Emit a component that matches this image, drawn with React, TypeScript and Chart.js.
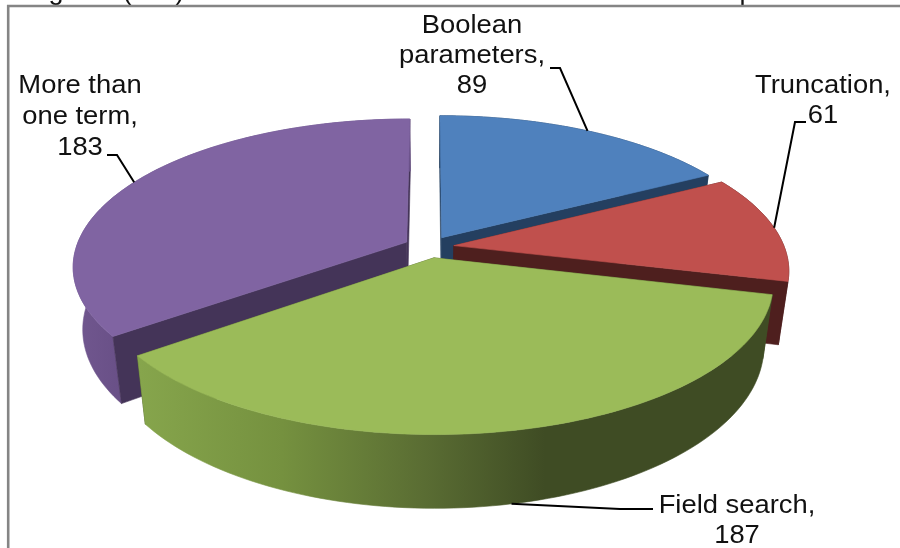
import React, { useEffect, useRef } from "react";
import { Chart, registerables } from "chart.js";

Chart.register(...registerables);

const categories = ["Boolean parameters", "Truncation", "Field search", "More than one term"];
const values = [89, 61, 187, 183];
const labelLines = [["Boolean", "parameters,"], ["Truncation,"], ["Field search,"], ["More than", "one term,"]];
const topColors = ["#4F81BD", "#C0504D", "#9BBB59", "#8064A2"];
const wallColors = ["#243F60", "#4E1F1E", "#3F4C24", "#443458"];
const paintOrder = [3, 0, 1, 2];

// Ground-plane projection of the unit pie onto the canvas
const view = { cx: 429, cy: 247, a: 330.5, b: 144.4, persp: 0.161, depth: 61, floorScale: 0.973 };

// Callout placement: text centre, first baseline, line gap, elbow and stub end, per slice
const callouts = [
  { x: 472, y: 33, gap: 30, elbow: [560, 68], stub: [550, 68], onFloor: false },
  { x: 823, y: 93, gap: 30, elbow: [795, 122], stub: [806, 122], onFloor: false },
  { x: 737, y: 513, gap: 30, elbow: [620, 509], stub: [653, 509], onFloor: true },
  { x: 80, y: 93, gap: 31, elbow: [117, 155], stub: [107, 155], onFloor: false },
];
const clippedCaption = [["g", 56], ["(", 127], [")", 180], ["p", 747]];

type Pt = [number, number];

function projectTop(u: number, v: number): Pt {
  const d = 1 - view.persp * v;
  return [view.cx + (view.a * u) / d, view.cy + (view.b * v) / d];
}

function projectFloor(u: number, v: number): Pt {
  const d = 1 - view.persp * v;
  const [x, y] = projectTop(u, v);
  return [view.cx + (x - view.cx) * view.floorScale, y + view.depth / d];
}

function polygon(ctx: CanvasRenderingContext2D, pts: Pt[], fill: string | CanvasGradient) {
  ctx.beginPath();
  pts.forEach(([x, y], i) => (i ? ctx.lineTo(x, y) : ctx.moveTo(x, y)));
  ctx.closePath();
  ctx.fillStyle = fill;
  ctx.fill();
  ctx.strokeStyle = fill;
  ctx.lineWidth = 0.6;
  ctx.stroke();
}

function stretchedText(ctx: CanvasRenderingContext2D, text: string, x: number, y: number) {
  ctx.save();
  ctx.translate(x, y);
  ctx.scale(1.095, 1);
  ctx.font = "25px 'Liberation Sans'";
  ctx.textAlign = "center";
  ctx.textBaseline = "alphabetic";
  ctx.fillStyle = "#111111";
  ctx.fillText(text, 0, 0);
  ctx.restore();
}

function rimGeometry(arc: any) {
  const { startAngle, endAngle, outerRadius } = arc.getProps(["startAngle", "endAngle", "outerRadius"], true);
  const mid = (startAngle + endAngle) / 2;
  const e = (arc.options.offset || 0) / outerRadius;
  const ox = Math.cos(mid) * e;
  const oy = Math.sin(mid) * e;
  const at = (angle: number, r = 1): [number, number] => [ox + Math.cos(angle) * r, oy + Math.sin(angle) * r];
  return { startAngle, endAngle, mid, at };
}

const pie3d = {
  id: "pie3d",
  // Replaces the flat arcs with extruded slices, using the angles the controller computed
  beforeDatasetDraw(chart: any) {
    const ctx: CanvasRenderingContext2D = chart.ctx;
    const arcs = chart.getDatasetMeta(0).data;
    ctx.save();
    for (const i of paintOrder) {
      const { startAngle, endAngle, at } = rimGeometry(arcs[i]);
      const steps = 90;
      const angles: number[] = [];
      for (let s = 0; s <= steps; s++) angles.push(startAngle + ((endAngle - startAngle) * s) / steps);
      const top = angles.map((a) => projectTop(...at(a)));
      const floor = angles.map((a) => projectFloor(...at(a)));
      const apex = at(0, 0);
      const wall = (a: number): Pt[] => [
        projectTop(...apex),
        projectTop(...at(a)),
        projectFloor(...at(a)),
        projectFloor(...apex),
      ];

      const startFront = -Math.cos(startAngle) > 0.01;
      const endFront = Math.cos(endAngle) > 0.01;
      if (!startFront) polygon(ctx, wall(startAngle), wallColors[i]);
      if (!endFront) polygon(ctx, wall(endAngle), wallColors[i]);

      let rimFill: string | CanvasGradient = wallColors[i];
      if (i === 2) {
        const g = ctx.createLinearGradient(140, 0, 545, 0);
        g.addColorStop(0, "#86A54C");
        g.addColorStop(0.35, "#75913F");
        g.addColorStop(0.7, "#5A6D33");
        g.addColorStop(1, "#3F4C24");
        rimFill = g;
      } else if (i === 3) {
        const g = ctx.createLinearGradient(75, 0, 125, 0);
        g.addColorStop(0, "#71578F");
        g.addColorStop(1, "#684F86");
        rimFill = g;
      }
      polygon(ctx, [...top, ...floor.slice().reverse()], rimFill);

      if (startFront) polygon(ctx, wall(startAngle), wallColors[i]);
      if (endFront) polygon(ctx, wall(endAngle), wallColors[i]);
      polygon(ctx, [projectTop(...apex), ...top], topColors[i]);
    }
    ctx.restore();
    return false;
  },
  afterDatasetsDraw(chart: any) {
    const ctx: CanvasRenderingContext2D = chart.ctx;
    const arcs = chart.getDatasetMeta(0).data;
    ctx.save();

    // Chart frame and the descenders of the caption sitting above it
    clippedCaption.forEach(([ch, x]) => {
      ctx.save();
      ctx.font = "27px 'Liberation Sans'";
      ctx.textAlign = "center";
      ctx.fillStyle = "#111111";
      ctx.fillText(ch as string, x as number, -1);
      ctx.restore();
    });
    ctx.strokeStyle = "#858585";
    ctx.lineWidth = 2.6;
    ctx.beginPath();
    ctx.moveTo(8.2, 548);
    ctx.lineTo(8.2, 6);
    ctx.lineTo(900, 6);
    ctx.stroke();

    // Callouts: leader from the slice's mid-angle on the rim, then the text
    values.forEach((value, i) => {
      const c = callouts[i];
      const { mid, at } = rimGeometry(arcs[i]);
      const anchor = c.onFloor ? projectFloor(...at(mid)) : projectTop(...at(mid));
      ctx.beginPath();
      ctx.moveTo(c.stub[0], c.stub[1]);
      ctx.lineTo(c.elbow[0], c.elbow[1]);
      ctx.lineTo(anchor[0], anchor[1]);
      ctx.strokeStyle = "#000000";
      ctx.lineWidth = 2;
      ctx.stroke();
      const lines = [...labelLines[i], String(value)];
      lines.forEach((t, n) => stretchedText(ctx, t, c.x, c.y + n * c.gap));
    });
    ctx.restore();
  },
};

export default function App() {
  const ref = useRef<HTMLCanvasElement>(null);
  useEffect(() => {
    const chart = new Chart(ref.current as HTMLCanvasElement, {
      type: "pie",
      data: {
        labels: categories,
        datasets: [{ data: values, backgroundColor: topColors, borderWidth: 0, offset: 20 }],
      },
      options: {
        animation: false,
        responsive: false,
        devicePixelRatio: 1,
        plugins: { legend: { display: false }, tooltip: { enabled: false }, title: { display: false } },
      },
      plugins: [pie3d],
    } as any);
    return () => chart.destroy();
  }, []);
  return (
    <canvas
      ref={ref}
      width={900}
      height={548}
      style={{ position: "fixed", left: 0, top: 0, width: 900, height: 548, display: "block", background: "#ffffff" }}
    />
  );
}
